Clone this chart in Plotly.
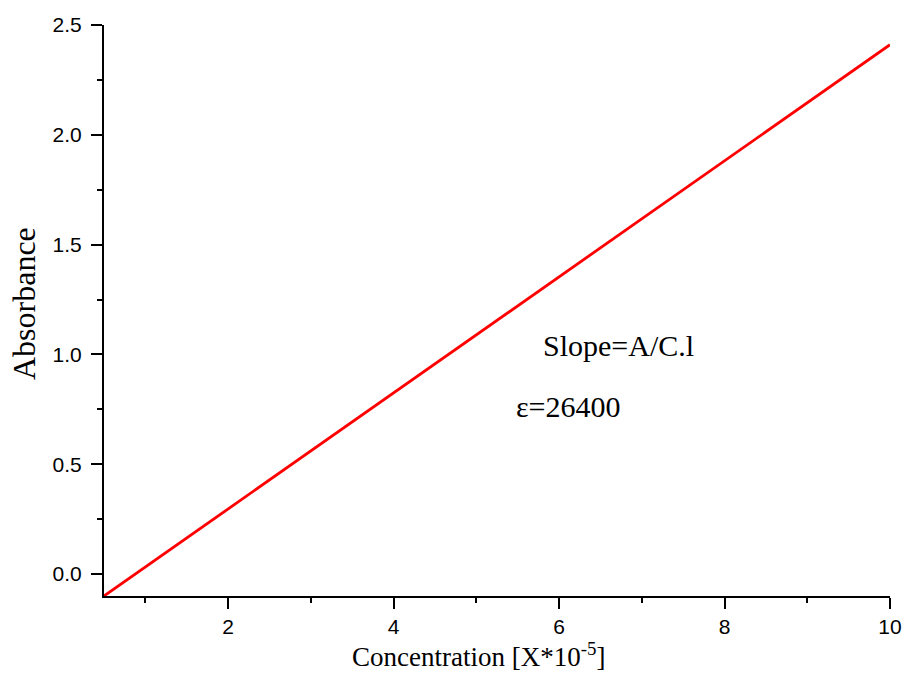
import plotly.graph_objects as go

# Calibration line (Beer-Lambert fit)
concentration = [0.5, 10.0]
absorbance = [-0.1, 2.41]
x_ticks = [2, 4, 6, 8, 10]
x_minor = [1, 3, 5, 7, 9]
y_ticks = [0.0, 0.5, 1.0, 1.5, 2.0, 2.5]
y_minor = [0.25, 0.75, 1.25, 1.75, 2.25]

W, H = 904, 673
l, r, t, b = 104, 14, 25, 77

fig = go.Figure()
fig.add_trace(go.Scatter(
    x=concentration, y=absorbance, mode="lines",
    line=dict(color="#ff0000", width=2.8), showlegend=False,
    cliponaxis=False,
))

axis_common = dict(
    automargin=False,
    showgrid=False, zeroline=False, showline=True, linecolor="black", linewidth=2,
    ticks="outside", ticklen=11, tickwidth=2, tickcolor="black",
    tickfont=dict(family="Liberation Sans, Arial", size=21, color="black"),
)

fig.update_xaxes(
    range=[0.5, 10], tickvals=x_ticks, ticktext=[str(v) for v in x_ticks],
    minor=dict(tickvals=x_minor, ticklen=5, tickwidth=2, tickcolor="black", ticks="outside"),
    **axis_common,
)
fig.update_yaxes(
    range=[-0.1, 2.5], tickvals=y_ticks, ticktext=[f"{v:.1f}" for v in y_ticks],
    minor=dict(tickvals=y_minor, ticklen=5, tickwidth=2, tickcolor="black", ticks="outside"),
    ticklabelstandoff=5,
    **axis_common,
)

fig.update_layout(
    width=W, height=H,
    margin=dict(l=l, r=r, t=t, b=b),
    plot_bgcolor="white", paper_bgcolor="white",
)

serif = dict(family="Liberation Serif, Times New Roman", color="black")
pw, ph = W - l - r, H - t - b


def px(xp):
    return (xp - l) / pw


def py(yp):
    return (H - b - yp) / ph


fig.add_annotation(x=px(24), y=py(304), xref="paper", yref="paper", text="Absorbance",
                   showarrow=False, textangle=-90, font=dict(size=32, **serif),
                   xanchor="center", yanchor="middle")
fig.add_annotation(x=px(478), y=py(655), xref="paper", yref="paper",
                   text="Concentration [X*10<sup>-5</sup>]",
                   showarrow=False, font=dict(size=27, **serif),
                   xanchor="center", yanchor="middle")
fig.add_annotation(x=px(618), y=py(345), xref="paper", yref="paper", text="Slope=A/C.l",
                   showarrow=False, font=dict(size=30, **serif),
                   xanchor="center", yanchor="middle")
fig.add_annotation(x=px(514), y=py(406), xref="paper", yref="paper", text="ε=26400",
                   showarrow=False, font=dict(size=30, **serif),
                   xanchor="left", yanchor="middle")

fig.write_html("out.html")
